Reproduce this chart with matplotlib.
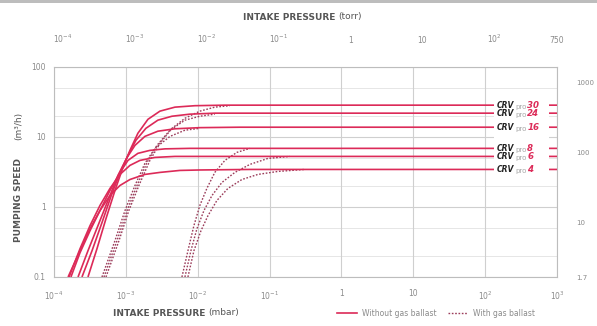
import matplotlib
matplotlib.use("Agg")
import matplotlib.pyplot as plt
from matplotlib.lines import Line2D
from matplotlib.patches import Rectangle

# ---------------- data ----------------
models = ["30", "24", "16", "8", "6", "4"]

# Without gas ballast (solid) : intake pressure (mbar) / pumping speed (m3/h)
p_solid_30 = [2.97e-4, 3.96e-4, 5.29e-4, 7.05e-4, 9.11e-4, 1.14e-3, 1.47e-3, 2.03e-3, 2.98e-3, 4.82e-3, 9.14e-3, 2.39e-2, 0.101, 1000]
s_solid_30 = [0.1, 0.253, 0.682, 1.72, 3.67, 6.44, 11.3, 17.9, 23.4, 26.7, 28.0, 28.5, 28.5, 28.5]
p_solid_24 = [2.45e-4, 3.38e-4, 4.65e-4, 6.41e-4, 8.55e-4, 1.07e-3, 1.38e-3, 1.90e-3, 2.79e-3, 4.38e-3, 7.79e-3, 1.73e-2, 7.33e-2, 1000]
s_solid_24 = [0.1, 0.237, 0.597, 1.56, 3.33, 5.46, 8.97, 13.3, 17.4, 19.8, 21.2, 21.9, 21.9, 21.9]
p_solid_16 = [2.16e-4, 2.97e-4, 4.09e-4, 5.64e-4, 7.76e-4, 1.04e-3, 1.34e-3, 1.84e-3, 2.79e-3, 4.82e-3, 1.07e-2, 3.86e-2, 1000]
s_solid_16 = [0.1, 0.237, 0.541, 1.24, 2.82, 5.11, 7.60, 10.2, 12.1, 13.1, 13.6, 13.8, 13.8]
p_solid_8 = [1.72e-4, 2.30e-4, 3.17e-4, 4.36e-4, 6.01e-4, 8.28e-4, 1.07e-3, 1.47e-3, 2.16e-3, 3.50e-3, 7.79e-3, 3.86e-2, 1000]
s_solid_8 = [0.1, 0.222, 0.458, 0.888, 1.72, 3.12, 4.63, 5.84, 6.44, 6.77, 6.88, 6.88, 6.88]
p_solid_6 = [1.62e-4, 2.30e-4, 3.17e-4, 4.36e-4, 6.01e-4, 8.28e-4, 1.14e-3, 1.57e-3, 2.54e-3, 4.82e-3, 1.07e-2, 5.32e-2, 1000]
s_solid_6 = [0.1, 0.253, 0.541, 1.05, 1.84, 2.92, 3.93, 4.63, 5.11, 5.28, 5.28, 5.28, 5.28]
p_solid_4 = [1.57e-4, 2.30e-4, 3.17e-4, 4.36e-4, 6.01e-4, 8.28e-4, 1.14e-3, 1.84e-3, 2.98e-3, 5.65e-3, 1.07e-2, 5.32e-2, 1000]
s_solid_4 = [0.1, 0.237, 0.49, 0.888, 1.46, 2.03, 2.47, 2.92, 3.12, 3.33, 3.38, 3.44, 3.44]

# With gas ballast (dotted)
p_gb_30 = [5.29e-4, 8.02e-4, 1.10e-3, 1.52e-3, 2.16e-3, 2.98e-3, 4.38e-3, 6.64e-3, 1.07e-2, 1.73e-2, 2.80e-2]
s_gb_30 = [0.1, 0.33, 0.888, 2.03, 4.63, 8.12, 13.3, 18.5, 23.4, 26.7, 28.0]
p_gb_24 = [4.96e-4, 7.52e-4, 1.04e-3, 1.43e-3, 1.97e-3, 2.71e-3, 4.11e-3, 6.64e-3, 1.07e-2, 1.73e-2]
s_gb_24 = [0.1, 0.33, 0.888, 2.03, 4.34, 7.60, 12.5, 17.4, 19.8, 21.2]
p_gb_16 = [4.65e-4, 7.05e-4, 9.72e-4, 1.34e-3, 1.84e-3, 2.54e-3, 4.11e-3, 6.64e-3, 1.07e-2]
s_gb_16 = [0.1, 0.33, 0.888, 2.03, 4.20, 6.88, 10.2, 12.5, 13.3]
p_gb_8 = [6.03e-3, 7.31e-3, 8.85e-3, 1.07e-2, 1.34e-2, 1.73e-2, 2.39e-2, 3.51e-2, 5.32e-2]
s_gb_8 = [0.1, 0.237, 0.541, 1.05, 1.84, 3.12, 4.63, 6.03, 6.88]
p_gb_6 = [6.64e-3, 8.04e-3, 9.75e-3, 1.22e-2, 1.58e-2, 2.17e-2, 3.29e-2, 5.32e-2, 9.47e-2, 0.191]
s_gb_6 = [0.1, 0.237, 0.49, 0.888, 1.46, 2.24, 3.12, 4.06, 4.94, 5.28]
p_gb_4 = [7.31e-3, 8.85e-3, 1.11e-2, 1.39e-2, 1.85e-2, 2.63e-2, 4.12e-2, 6.88e-2, 0.130, 0.310]
s_gb_4 = [0.1, 0.237, 0.458, 0.753, 1.24, 1.84, 2.47, 2.92, 3.22, 3.44]

plateaus = [28.5, 21.9, 13.8, 6.88, 5.28, 3.44]

x_ticks_mbar = [1e-4, 1e-3, 1e-2, 1e-1, 1, 10, 1e2, 1e3]
x_labels_mbar = [r"$10^{-4}$", r"$10^{-3}$", r"$10^{-2}$", r"$10^{-1}$", "1", "10", r"$10^{2}$", r"$10^{3}$"]
x_ticks_torr = [1e-4, 1e-3, 1e-2, 1e-1, 1, 10, 1e2, 750]
x_labels_torr = [r"$10^{-4}$", r"$10^{-3}$", r"$10^{-2}$", r"$10^{-1}$", "1", "10", r"$10^{2}$", "750"]
y_ticks = [0.1, 1, 10, 100]
y_labels = ["0.1", "1", "10", "100"]
y2_ticks = [1.667, 10, 100, 1000]
y2_labels = ["1.7", "10", "100", "1000"]

# ---------------- styling ----------------
RED = "#dc2a58"
DOT = "#9b3c5a"
TXT = "#8a8a8a"
TITLE = "#555555"

fig = plt.figure(figsize=(5.97, 3.26), dpi=100)
fig.patch.set_facecolor("white")
W, H = 597, 326
ax = fig.add_axes([54 / W, 1 - 277 / H, (557 - 54) / W, (277 - 67) / H])
ax.set_xscale("log")
ax.set_yscale("log")
ax.set_xlim(1e-4, 1e3)
ax.set_ylim(0.1, 100)

# grid
ax.set_axisbelow(True)
for v in [2, 5, 20, 50, 0.2, 0.5]:
    ax.axhline(v, color="#e6e6e6", lw=0.7, zorder=0)
ax.grid(True, which="major", color="#cfcfcf", lw=0.8)
for sp in ax.spines.values():
    sp.set_color("#bdbdbd")
    sp.set_linewidth(0.8)

solid_p = [p_solid_30, p_solid_24, p_solid_16, p_solid_8, p_solid_6, p_solid_4]
solid_s = [s_solid_30, s_solid_24, s_solid_16, s_solid_8, s_solid_6, s_solid_4]
gb_p = [p_gb_30, p_gb_24, p_gb_16, p_gb_8, p_gb_6, p_gb_4]
gb_s = [s_gb_30, s_gb_24, s_gb_16, s_gb_8, s_gb_6, s_gb_4]

for p, s in zip(gb_p, gb_s):
    ax.plot(p, s, color=DOT, lw=1.0, ls=(0, (1.2, 1.2)), zorder=3)
for p, s in zip(solid_p, solid_s):
    ax.plot(p, s, color=RED, lw=1.2, zorder=4, solid_capstyle="butt")

# ticks
ax.set_xticks(x_ticks_mbar)
ax.set_xticklabels(x_labels_mbar)
ax.set_yticks(y_ticks)
ax.set_yticklabels(y_labels)
ax.minorticks_off()
ax.tick_params(axis="both", length=0, labelsize=5.5, colors=TXT)
ax.tick_params(axis="x", pad=9)
ax.tick_params(axis="y", pad=6)

top = ax.secondary_xaxis("top", functions=(lambda m: m / 1.333, lambda t: t * 1.333))
top.set_xticks(x_ticks_torr)
top.set_xticklabels(x_labels_torr)
top.minorticks_off()
top.tick_params(length=0, labelsize=5.5, colors=TXT, pad=16)
top.spines["top"].set_visible(False)

right = ax.secondary_yaxis("right", functions=(lambda v: v * 16.67, lambda l: l / 16.67))
right.set_yticks(y2_ticks)
right.set_yticklabels(y2_labels)
right.minorticks_off()
right.tick_params(length=0, labelsize=5, colors=TXT, pad=14)
right.spines["right"].set_visible(False)

# white box behind model labels
x0 = (494 - 54) / (557 - 54)
x1 = (549 - 54) / (557 - 54)
y0 = (277 - 177) / (277 - 67)
y1 = (277 - 98) / (277 - 67)
ax.add_patch(Rectangle((x0, y0), x1 - x0, y1 - y0, transform=ax.transAxes,
                       facecolor="white", edgecolor="none", zorder=5))

for m, val in zip(models, plateaus):
    t1 = ax.text((497 - 54) / (557 - 54), val, "CRV", transform=ax.get_yaxis_transform(),
                 fontsize=5.5, fontweight="bold", fontstyle="italic", color="#222222",
                 ha="left", va="center", zorder=6)
    t2 = ax.annotate("pro", xy=(1, 0), xycoords=t1, xytext=(0.5, 0), textcoords="offset points",
                     fontsize=5, color="#a8a8a8", ha="left", va="bottom", zorder=6)
    ax.annotate(m, xy=(1, 0), xycoords=t2, xytext=(0.5, 0), textcoords="offset points",
                fontsize=6.2, fontweight="bold", fontstyle="italic", color=RED,
                ha="left", va="bottom", zorder=6)

# axis titles
fy = 1 - 313 / H
fig.text(205 / W, fy, "INTAKE PRESSURE", ha="right", va="center", fontsize=6.5,
         fontweight="bold", color=TITLE)
fig.text(208 / W, fy, "(mbar)", ha="left", va="center", fontsize=6.5, color=TITLE)
ty = 1 - 17 / H
fig.text(335 / W, ty, "INTAKE PRESSURE", ha="right", va="center", fontsize=6.5,
         fontweight="bold", color=TITLE)
fig.text(338 / W, ty, "(torr)", ha="left", va="center", fontsize=6.5, color=TITLE)
fig.text(19 / W, 1 - 242 / H, "PUMPING SPEED", rotation=90, ha="center", va="bottom",
         fontsize=6.5, fontweight="bold", color=TITLE)
fig.text(19 / W, 1 - 140 / H, "(m\u00b3/h)", rotation=90, ha="center", va="bottom",
         fontsize=6.5, color=TITLE)

# legend
handles = [Line2D([], [], color=RED, lw=1.2),
           Line2D([], [], color=DOT, lw=1.0, ls=(0, (1.2, 1.2)))]
leg = fig.legend(handles, ["Without gas ballast", "With gas ballast"], loc="center",
                 bbox_to_anchor=(436 / W, fy), ncol=2, frameon=False, fontsize=5.5,
                 handlelength=2.6, columnspacing=1.6, handletextpad=0.6)
for t in leg.get_texts():
    t.set_color(TXT)

# top grey band
fig.add_artist(Rectangle((0, 1 - 3 / H), 1, 3 / H, transform=fig.transFigure,
                         facecolor="#bdbdbd", edgecolor="none"))

fig.savefig("out.png", dpi=100, facecolor="white")
